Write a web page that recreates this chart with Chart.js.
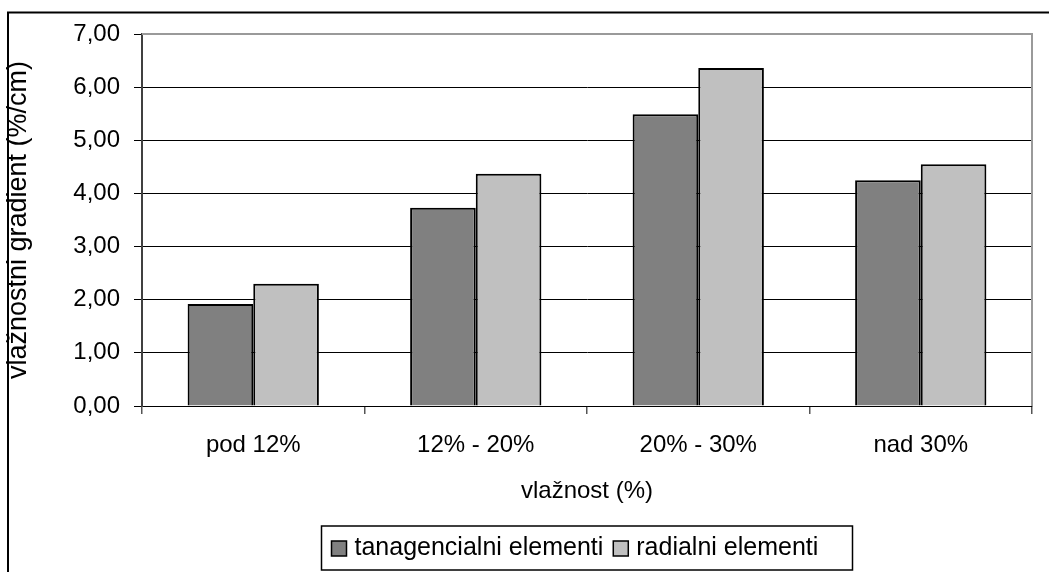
<!DOCTYPE html>
<html>
<head>
<meta charset="utf-8">
<script src="https://cdn.jsdelivr.net/npm/chart.js@4/dist/chart.umd.min.js"></script>
<style>
  html, body { margin: 0; padding: 0; background: #fff; }
  #wrap { width: 1049px; height: 572px; }
</style>
</head>
<body>
<div id="wrap"><canvas id="c" width="1049" height="572"></canvas></div>
<script>
// Moisture classes and measured moisture gradients (%/cm)
const categories = ['pod 12%', '12% - 20%', '20% - 30%', 'nad 30%'];
const tangentialValues = [1.92, 3.73, 5.49, 4.25];
const radialValues = [2.30, 4.37, 6.36, 4.55];
const seriesNames = ['tanagencialni elementi', 'radialni elementi'];
const yTickValues = [0, 1, 2, 3, 4, 5, 6, 7];
const xTitle = 'vlažnost (%)';
const yTitle = 'vlažnostni gradient (%/cm)';

const FONT = '"Liberation Sans", Arial, sans-serif';
const DARK = '#808080';
const LIGHT = '#c0c0c0';

Chart.defaults.font.family = FONT;
Chart.defaults.color = '#000';

const fmt = v => v.toFixed(2).replace('.', ',');

// Outer frame, grey plot border and a boxed legend under the axis title
const decor = {
  id: 'decor',
  beforeDraw(chart) {
    const { ctx, width, height } = chart;
    ctx.save();
    ctx.fillStyle = '#fff';
    ctx.fillRect(0, 0, width, height);
    ctx.strokeStyle = '#000';
    ctx.lineWidth = 2;
    ctx.beginPath();
    ctx.moveTo(8, height);
    ctx.lineTo(8, 12.5);
    ctx.lineTo(width, 12.5);
    ctx.stroke();
    ctx.restore();
  },
  beforeDatasetsDraw(chart) {
    const { ctx, chartArea: a } = chart;
    ctx.save();
    ctx.strokeStyle = '#9a9a9a';
    ctx.lineWidth = 2;
    ctx.beginPath();
    ctx.moveTo(a.left, a.top);
    ctx.lineTo(a.right, a.top);
    ctx.lineTo(a.right, a.bottom);
    ctx.stroke();
    ctx.restore();
  },
  afterDraw(chart) {
    const { ctx, chartArea: a } = chart;
    const cx = (a.left + a.right) / 2;
    const boxW = 531, boxTop = 526, boxH = 44;
    const left = cx - boxW / 2;
    ctx.save();
    ctx.strokeStyle = '#000';
    ctx.lineWidth = 1.5;
    ctx.strokeRect(left, boxTop, boxW, boxH);
    ctx.font = '25px ' + FONT;
    ctx.textBaseline = 'middle';
    ctx.textAlign = 'left';
    let x = left + 10;
    chart.data.datasets.forEach(ds => {
      ctx.fillStyle = ds.backgroundColor;
      ctx.fillRect(x, boxTop + 15, 15, 15);
      ctx.lineWidth = 1.5;
      ctx.strokeRect(x, boxTop + 15, 15, 15);
      ctx.fillStyle = '#000';
      ctx.fillText(ds.label, x + 23, boxTop + 22);
      x += 23 + ctx.measureText(ds.label).width + 10;
    });
    ctx.restore();
  }
};

new Chart(document.getElementById('c'), {
  type: 'bar',
  data: {
    labels: categories,
    datasets: [
      { label: seriesNames[0], data: tangentialValues, backgroundColor: DARK, borderColor: '#000', borderWidth: 2 },
      { label: seriesNames[1], data: radialValues, backgroundColor: LIGHT, borderColor: '#000', borderWidth: 2 }
    ]
  },
  options: {
    responsive: false,
    animation: false,
    devicePixelRatio: 1,
    layout: { padding: { left: 5, right: 17, top: 34, bottom: 69 } },
    datasets: { bar: { categoryPercentage: 0.59, barPercentage: 1 } },
    plugins: { legend: { display: false }, tooltip: { enabled: false } },
    scales: {
      x: {
        offset: true,
        grid: { offset: true, drawOnChartArea: false, drawTicks: true, tickLength: 8, color: '#555', lineWidth: 1.5 },
        border: { display: true, color: '#000', width: 1 },
        ticks: { font: { size: 24, lineHeight: 1 }, padding: 19, color: '#000' },
        title: { display: true, text: xTitle, font: { size: 24, lineHeight: 1 }, padding: 0, color: '#000' },
        afterFit(s) { s.height = 97; }
      },
      y: {
        min: 0,
        max: 7,
        afterBuildTicks(s) { s.ticks = yTickValues.map(v => ({ value: v })); },
        grid: {
          color: c => (c.tick && c.tick.value === 7) ? 'rgba(0,0,0,0)' : '#000',
          tickColor: '#000',
          lineWidth: 1,
          tickLength: 8
        },
        border: { display: true, color: '#404040', width: 2 },
        ticks: { font: { size: 24, lineHeight: 1 }, padding: 14, color: '#000', callback: v => fmt(v) },
        title: { display: true, text: yTitle, font: { size: 27, lineHeight: 1 }, padding: 0, color: '#000' },
        afterFit(s) { s.width = 137; }
      }
    }
  },
  plugins: [decor]
});
</script>
</body>
</html>
